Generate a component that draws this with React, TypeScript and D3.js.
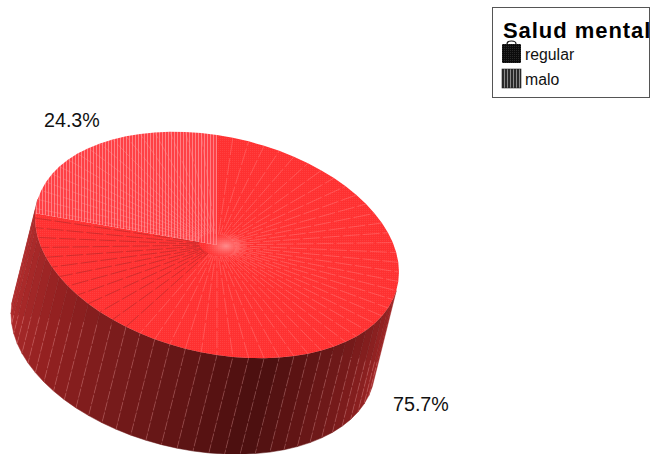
import React from "react";
import * as d3 from "d3";

const categories = ["regular", "malo"];
const shares = [75.7, 24.3];
const legendTitle = "Salud mental";
const shareLabels = ["75.7%", "24.3%"];

const WIDTH = 652;
const HEIGHT = 454;
const FACET_DEG = 5;

// Oblique projection of the disc: centre, axis vectors and extrusion vector.
const centre: [number, number] = [217, 245];
const rightAxis: [number, number] = [182, 27];
const upAxis: [number, number] = [0, -110];
const depth: [number, number] = [-24, 96];

const project = (a: number, drop = 0, radius = 1): [number, number] => [
  centre[0] + radius * (rightAxis[0] * Math.sin(a) + upAxis[0] * Math.cos(a)) + depth[0] * drop,
  centre[1] + radius * (rightAxis[1] * Math.sin(a) + upAxis[1] * Math.cos(a)) + depth[1] * drop,
];

const arcs = d3.pie<number>().sort(null).startAngle(0).endAngle(2 * Math.PI)(shares);
const line = d3.line();
const step = (FACET_DEG * Math.PI) / 180;

// Angles of the facet seams, slice borders included.
const facetAngles = (start: number, end: number) => {
  const inner = d3.range(Math.ceil(start / step + 1e-6) * step, end - 1e-6, step);
  return [start, ...inner, end];
};

const sideColor = d3
  .scaleLinear<string>()
  .domain([98, 125, 165, 205, 240, 278])
  .range(["#a82828", "#7f1d1d", "#4a0f0f", "#741a1a", "#962222", "#b83030"])
  .clamp(true);

const allAngles = facetAngles(0, 2 * Math.PI);
const deg = (a: number) => (a * 180) / Math.PI;
const visible = (a: number) => deg(a) >= 98 && deg(a) <= 279;

// Height on the wall where seams turn from dark to light.
const seamSplitY = (x: number) => 312 + 0.13 * (x - 10);

export default function App() {
  const sideFacets = d3.pairs(allAngles).filter(([a, b]) => visible((a + b) / 2));

  return (
    <svg
      width={WIDTH}
      height={HEIGHT}
      viewBox={`0 0 ${WIDTH} ${HEIGHT}`}
      style={{ position: "absolute", left: 0, top: 0, background: "#fff" }}
      fontFamily="'Liberation Sans', Arial, sans-serif"
    >
      <defs>
        <pattern id="fill-dots" width={2} height={2} patternUnits="userSpaceOnUse">
          <rect width={2} height={2} fill="#ff3131" />
          <rect width={1} height={1} fill="#ff4040" />
        </pattern>
        <pattern id="fill-stripes" width={3} height={3} patternUnits="userSpaceOnUse">
          <rect width={3} height={3} fill="#ff4045" />
          <rect width={1} height={3} fill="#ff8084" />
        </pattern>
        <pattern id="swatch-dots" width={2} height={2} patternUnits="userSpaceOnUse">
          <rect width={2} height={2} fill="#0c0c0c" />
          <rect width={1} height={1} fill="#2a2a2a" />
        </pattern>
        <pattern id="swatch-stripes" width={3} height={3} patternUnits="userSpaceOnUse">
          <rect width={3} height={3} fill="#2a2a2a" />
          <rect width={1} height={3} fill="#8a8a8a" />
        </pattern>
        <radialGradient id="hub-glow">
          <stop offset="0%" stopColor="#ff9a9a" stopOpacity={0.85} />
          <stop offset="100%" stopColor="#ff7a7a" stopOpacity={0} />
        </radialGradient>
      </defs>

      {/* Outer wall of the disc */}
      {sideFacets.map(([a, b], i) => (
        <path
          key={`wall-${i}`}
          d={line([project(a), project(b), project(b, 1), project(a, 1)]) + "Z"}
          fill={sideColor(deg((a + b) / 2))}
          stroke={sideColor(deg((a + b) / 2))}
          strokeWidth={0.5}
        />
      ))}
      {sideFacets.map(([a], i) => {
        if (i === 0) return null;
        const top = project(a);
        const bottom = project(a, 1);
        const splitY = seamSplitY(top[0]);
        const t = Math.max(0, Math.min(1, (splitY - top[1]) / (bottom[1] - top[1])));
        const mid: [number, number] = [top[0] + (bottom[0] - top[0]) * t, top[1] + (bottom[1] - top[1]) * t];
        return (
          <g key={`wall-seam-${i}`} fill="none" strokeWidth={0.6} strokeDasharray="9 2" strokeDashoffset={(i * 5) % 11}>
            <path d={line([top, mid]) ?? ""} stroke="#5a1212" strokeOpacity={0.3} />
            <path d={line([mid, bottom]) ?? ""} stroke="#ffb0b0" strokeOpacity={0.42} />
          </g>
        );
      })}

      {/* Top face, one polygon per slice */}
      {arcs.map((arc, i) => {
        const rim = facetAngles(arc.startAngle, arc.endAngle).map((a) => project(a));
        return (
          <path
            key={categories[i]}
            d={line([centre, ...rim]) + "Z"}
            fill={i === 0 ? "url(#fill-dots)" : "url(#fill-stripes)"}
          />
        );
      })}

      {/* Radial seams on the top face */}
      {arcs.map((arc, i) =>
        facetAngles(arc.startAngle, arc.endAngle)
          .slice(1, -1)
          .map((a, j) => {
            const dark = i === 0 && deg(a) > 205;
            return (
              <path
                key={`seam-${i}-${j}`}
                d={line([project(a, 0, 0.1), project(a)]) ?? ""}
                fill="none"
                stroke={dark ? "#7a2020" : "#ffa0a0"}
                strokeOpacity={dark ? 0.5 : 0.45}
                strokeWidth={0.7}
                strokeDasharray="17 3"
                strokeDashoffset={(j * 7) % 20}
              />
            );
          })
      )}

      {/* Soft highlight where the seams meet */}
      <ellipse cx={226} cy={246} rx={22} ry={13} fill="url(#hub-glow)" />

      {/* Share labels */}
      <text x={393} y={411} fontSize={19.7} fill="#111">{shareLabels[0]}</text>
      <text x={44} y={127} fontSize={19.7} fill="#111">{shareLabels[1]}</text>

      {/* Legend */}
      <rect x={492.5} y={7.5} width={157} height={90} fill="#fff" stroke="#555" />
      <text x={503} y={38} fontSize={22} fontWeight="bold" letterSpacing={0.95} fill="#000">{legendTitle}</text>
      <path d="M507 44 Q507 41 511.5 41 Q516 41 516 44" fill="none" stroke="#111" strokeWidth={1.2} />
      <rect x={502} y={44} width={19} height={19} rx={1} fill="url(#swatch-dots)" />
      <rect x={502} y={69} width={19} height={19} fill="url(#swatch-stripes)" stroke="#222" strokeWidth={0.6} />
      <text x={525} y={60} fontSize={15.8} fill="#111">{categories[0]}</text>
      <text x={525} y={85} fontSize={15.8} fill="#111">{categories[1]}</text>
    </svg>
  );
}
